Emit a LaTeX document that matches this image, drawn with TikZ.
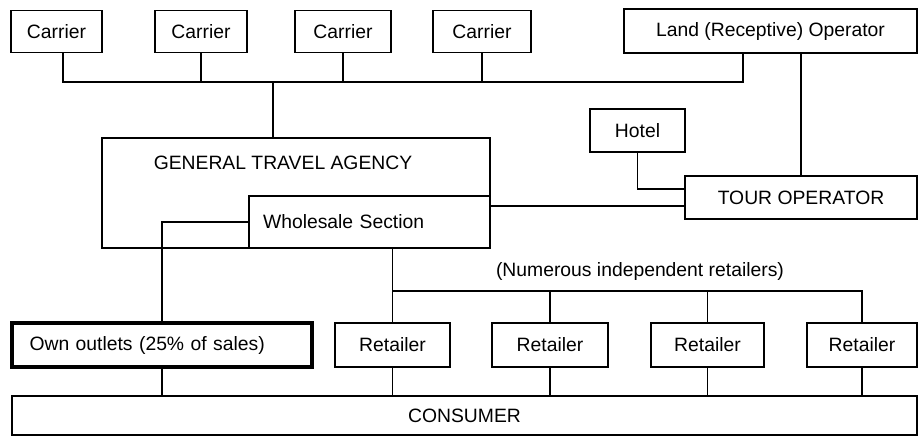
\documentclass[tikz,border=0pt]{standalone}
\usepackage{fontspec}
\setsansfont{Liberation Sans}
\usepackage{tikz}
\usetikzlibrary{positioning,calc}

\begin{document}
\begin{tikzpicture}[
  x=0.02cm, y=-0.02cm,
  font=\sffamily\fontsize{11}{13}\selectfont,
  box/.style={draw=black, line width=1.1pt, fill=white, minimum height=0.84cm, inner sep=0pt, align=center},
  leftbox/.style={box, align=left, inner xsep=0.28cm},
  link/.style={draw=black, line width=1.1pt}
]
  \useasboundingbox (0,0) rectangle (919,437);

  % suppliers
  \node[box, minimum width=1.82cm] (car1) at (56.5,31.5) {Carrier};
  \node[box, minimum width=1.84cm] (car2) at (201,31.5) {Carrier};
  \node[box, minimum width=1.92cm] (car3) at (343,31.5) {Carrier};
  \node[box, minimum width=1.96cm] (car4) at (482,31.5) {Carrier};
  \node[box, minimum width=5.86cm, minimum height=0.88cm] (land) at (770.5,31) {Land (Receptive) Operator};

  % agency and tour operator
  \node[box, minimum width=7.76cm, minimum height=2.2cm] (gta) at (296,193) {};
  \node[anchor=center] (gtatext) at (283,163) {GENERAL TRAVEL AGENCY};
  \node[leftbox, minimum width=4.82cm, minimum height=1.04cm, text width=4.26cm] (whole) at (369.5,222) {Wholesale Section};
  \node[box, minimum width=1.9cm, minimum height=0.86cm] (hotel) at (637.5,130.5) {Hotel};
  \node[box, minimum width=4.64cm, minimum height=0.86cm] (tour) at (801,197.5) {TOUR OPERATOR};

  % outlets
  \node[leftbox, line width=1.8pt, minimum width=6.0cm, minimum height=0.88cm, text width=5.3cm] (own) at (162,345) {Own outlets (25\% of sales)};
  \node[box, minimum width=2.3cm, minimum height=0.88cm] (ret1) at (392.5,345) {Retailer};
  \node[box, minimum width=2.32cm, minimum height=0.88cm] (ret2) at (550,345) {Retailer};
  \node[box, minimum width=2.26cm, minimum height=0.88cm] (ret3) at (707.5,345) {Retailer};
  \node[box, minimum width=2.2cm, minimum height=0.88cm] (ret4) at (862,345) {Retailer};
  \node (numerous) at (640,271) {(Numerous independent retailers)};

  \node[box, minimum width=18.1cm, minimum height=0.78cm] (consumer) at (464.5,415.5) {CONSUMER};

  % carrier bus
  \coordinate (bus) at (273,82);
  \coordinate (car1drop) at ([xshift=0.13cm]car1.south);
  \coordinate (landdrop) at ([xshift=-0.55cm]land.south);
  \draw[link] (car1drop) |- (landdrop |- bus) -- (landdrop);
  \foreach \c in {car2,car3,car4}
    \draw[link] (\c.south) -- (\c.south |- bus);
  \draw[link] (bus) -- (bus |- gta.north);

  % tour operator links
  \draw[link] (tour.north |- land.south) -- (tour.north);
  \draw[link] (hotel.south) |- ([yshift=0.17cm]tour.west);
  \coordinate (tolink) at ([yshift=-0.17cm]tour.west);
  \draw[link] (tolink) -- (tolink -| gta.east);

  % distribution
  \draw[link] (whole.west) -| (own.north);
  \coordinate (rbus) at (640,291);
  \draw[link] (ret1.north |- whole.south) -- (ret1.north);
  \draw[link] (ret1.north |- rbus) -| (ret4.north);
  \foreach \r in {ret2,ret3}
    \draw[link] (\r.north |- rbus) -- (\r.north);
  \foreach \o in {own,ret1,ret2,ret3,ret4}
    \draw[link] (\o.south) -- (\o.south |- consumer.north);
\end{tikzpicture}
\end{document}
